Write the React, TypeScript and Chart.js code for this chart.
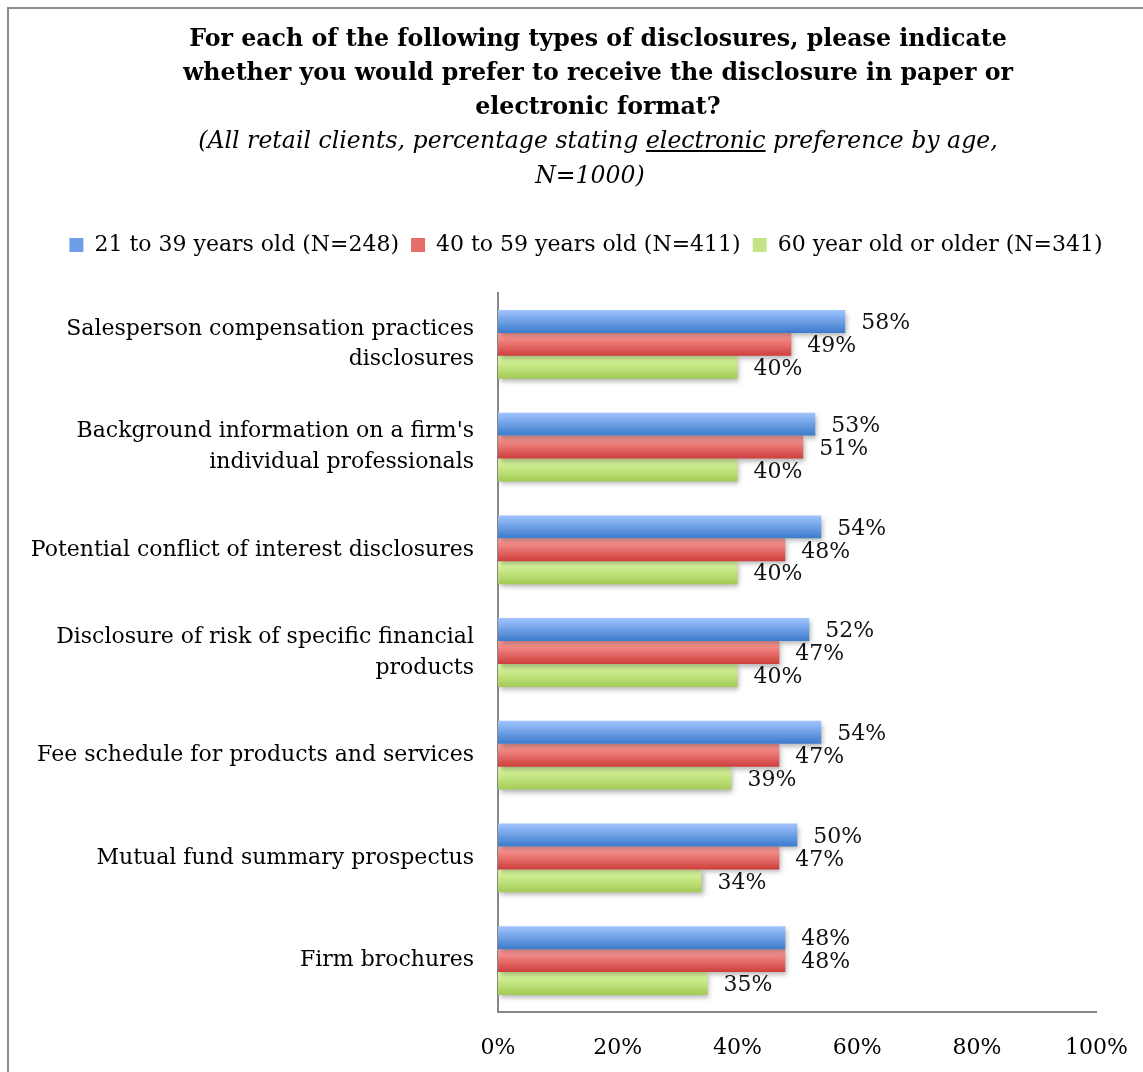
import React, { useEffect, useRef } from "react";
import { Chart, registerables } from "chart.js";

Chart.register(...registerables);

const FONT = "'DejaVu Serif', serif";

const categories: (string | string[])[] = [
  ["Salesperson compensation practices", "disclosures"],
  ["Background information on a firm's", "individual professionals"],
  "Potential conflict of interest disclosures",
  ["Disclosure of risk of specific financial", "products"],
  "Fee schedule for products and services",
  "Mutual fund summary prospectus",
  "Firm brochures",
];

const seriesNames = [
  "21 to 39 years old (N=248)",
  "40 to 59 years old (N=411)",
  "60 year old or older (N=341)",
];

const age21to39 = [58, 53, 54, 52, 54, 50, 48];
const age40to59 = [49, 51, 48, 47, 47, 47, 48];
const age60plus = [40, 40, 40, 40, 39, 34, 35];

const xTickStep = 20;
const xMin = 0;
const xMax = 100;

const solidColors = ["#6E9EE8", "#E56D6A", "#C4E487"];
const gradientStops: [string, string][] = [
  ["#A0C4FF", "#3C7BCB"],
  ["#FFA3A0", "#CE3E3B"],
  ["#E0FDA8", "#A3CA55"],
];

const barStyle = {
  id: "barStyle",
  beforeDatasetDraw(chart: any, args: any) {
    const ctx = chart.ctx;
    const [c1, c2] = gradientStops[args.index];
    args.meta.data.forEach((el: any) => {
      const half = el.height / 2;
      const g = ctx.createLinearGradient(0, el.y - half, 0, el.y + half);
      g.addColorStop(0, c1);
      g.addColorStop(1, c2);
      el.options = { ...el.options, backgroundColor: g };
    });
    ctx.save();
    ctx.shadowColor = "rgba(0,0,0,0.3)";
    ctx.shadowBlur = 5;
    ctx.shadowOffsetX = 2;
    ctx.shadowOffsetY = 3;
  },
  afterDatasetDraw(chart: any) {
    chart.ctx.restore();
  },
};

const valueLabels = {
  id: "valueLabels",
  afterDatasetsDraw(chart: any) {
    const ctx = chart.ctx;
    ctx.save();
    ctx.font = `22px ${FONT}`;
    ctx.fillStyle = "#111";
    ctx.textAlign = "left";
    ctx.textBaseline = "middle";
    chart.data.datasets.forEach((ds: any, i: number) => {
      const meta = chart.getDatasetMeta(i);
      meta.data.forEach((el: any, j: number) => {
        ctx.fillText(`${ds.data[j]}%`, el.x + 16, el.y + 2);
      });
    });
    ctx.restore();
  },
};

const legendLayout = {
  id: "legendLayout",
  beforeInit(chart: any) {
    const legend = chart.legend;
    if (!legend) return;
    const orig = legend.fit;
    legend.fit = function () {
      orig.call(this);
      this.height = 71;
    };
  },
  afterLayout(chart: any) {
    const legend = chart.legend;
    if (!legend) return;
    // center the legend over x = 586 (like the original)
    const center = (legend.left + legend.right) / 2;
    const shift = 586 - center;
    legend.left += shift;
    legend.right += shift;
  },
};

export default function App() {
  const ref = useRef<HTMLCanvasElement>(null);

  useEffect(() => {
    if (!ref.current) return;
    const chart = new Chart(ref.current, {
      type: "bar",
      data: {
        labels: categories,
        datasets: [
          { label: seriesNames[0], data: age21to39, backgroundColor: solidColors[0], borderWidth: 0 },
          { label: seriesNames[1], data: age40to59, backgroundColor: solidColors[1], borderWidth: 0 },
          { label: seriesNames[2], data: age60plus, backgroundColor: solidColors[2], borderWidth: 0 },
        ],
      },
      options: {
        indexAxis: "y",
        responsive: false,
        animation: false,
        devicePixelRatio: 1,
        layout: { padding: { top: 222, left: 10, right: 45, bottom: 8 } },
        datasets: { bar: { categoryPercentage: 0.67, barPercentage: 1.0 } },
        plugins: {
          title: { display: false },
          tooltip: { enabled: false },
          legend: {
            position: "top",
            labels: {
              font: { family: FONT, size: 22 },
              color: "#000",
              boxWidth: 14,
              boxHeight: 14,
              padding: 12,
            },
          },
        },
        scales: {
          x: {
            min: xMin,
            max: xMax,
            ticks: {
              stepSize: xTickStep,
              callback: (v: any) => `${v}%`,
              font: { family: FONT, size: 22 },
              color: "#000",
              padding: 15,
            },
            grid: { display: false },
            border: { display: true, color: "#888", width: 2 },
            afterFit: (s: any) => {
              s.height = 52;
            },
          },
          y: {
            ticks: {
              font: { family: FONT, size: 22, lineHeight: 1.4 },
              color: "#000",
              padding: 16,
            },
            grid: { display: false },
            border: { display: true, color: "#888", width: 2 },
            afterFit: (s: any) => {
              s.width = 488;
            },
          },
        },
      },
      plugins: [barStyle, valueLabels, legendLayout],
    });
    return () => chart.destroy();
  }, []);

  return (
    <div
      style={{
        position: "fixed",
        left: 0,
        top: 0,
        width: 1143,
        height: 1072,
        overflow: "hidden",
        background: "#fff",
      }}
    >
      <div
        style={{
          position: "absolute",
          left: 7,
          top: 7,
          width: 1400,
          height: 1400,
          border: "2px solid #8c8c8c",
        }}
      />
      <canvas
        ref={ref}
        width={1143}
        height={1072}
        style={{ position: "absolute", left: 0, top: 0, width: 1143, height: 1072 }}
      />
      <div
        style={{
          position: "absolute",
          left: 0,
          top: 21,
          width: 1196,
          textAlign: "center",
          fontFamily: FONT,
          color: "#000",
          pointerEvents: "none",
        }}
      >
        <div style={{ fontWeight: "bold", fontSize: 23.7, lineHeight: "34px" }}>
          For each of the following types of disclosures, please indicate
          <br />
          whether you would prefer to receive the disclosure in paper or
          <br />
          electronic format?
        </div>
        <div style={{ fontStyle: "italic", fontSize: 23.6, lineHeight: "35px" }}>
          (All retail clients, percentage stating <u>electronic</u> preference by age,
          <br />
          <span style={{ paddingRight: 16 }}>N=1000)</span>
        </div>
      </div>
    </div>
  );
}
